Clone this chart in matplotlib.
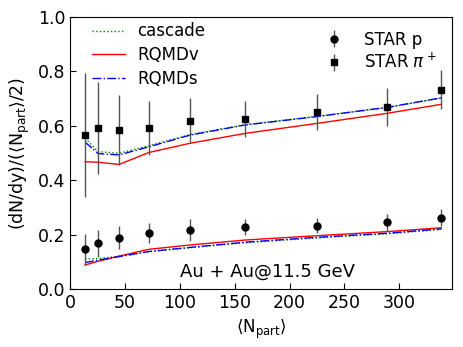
import matplotlib
matplotlib.use("Agg")
import matplotlib.pyplot as plt

npart = [13.7, 25.6, 44.7, 72.0, 109.7, 159.5, 225.3, 289.1, 338.3]

# STAR data
pi_y = [0.566, 0.591, 0.585, 0.591, 0.619, 0.624, 0.650, 0.669, 0.732]
pi_err = [0.229, 0.170, 0.128, 0.100, 0.082, 0.067, 0.067, 0.069, 0.072]
p_y = [0.146, 0.168, 0.189, 0.205, 0.216, 0.227, 0.233, 0.245, 0.262]
p_err = [0.058, 0.049, 0.043, 0.037, 0.040, 0.030, 0.028, 0.030, 0.032]

# model curves (pi+)
pi_cascade = [0.555, 0.505, 0.499, 0.527, 0.568, 0.604, 0.635, 0.667, 0.702]
pi_rqmdv = [0.468, 0.466, 0.458, 0.502, 0.536, 0.572, 0.609, 0.646, 0.679]
pi_rqmds = [0.540, 0.498, 0.493, 0.523, 0.566, 0.603, 0.634, 0.668, 0.703]
# model curves (p)
p_cascade = [0.110, 0.112, 0.120, 0.137, 0.152, 0.170, 0.188, 0.203, 0.219]
p_rqmdv = [0.088, 0.102, 0.121, 0.146, 0.162, 0.180, 0.196, 0.211, 0.225]
p_rqmds = [0.097, 0.106, 0.119, 0.138, 0.153, 0.172, 0.190, 0.205, 0.221]

fig = plt.figure(figsize=(4.63, 3.47), dpi=100)
ax = fig.add_axes([70/463, 1-289/347, (452-70)/463, (289-17)/347])

l1, = ax.plot(npart, pi_cascade, color='green', ls=':', lw=1.0, label='cascade')
l2, = ax.plot(npart, pi_rqmdv, color='red', ls='-', lw=1.0, label='RQMDv')
l3, = ax.plot(npart, pi_rqmds, color='blue', ls='-.', lw=1.0, label='RQMDs')
ax.plot(npart, p_cascade, color='green', ls=':', lw=1.0)
ax.plot(npart, p_rqmdv, color='red', ls='-', lw=1.0)
ax.plot(npart, p_rqmds, color='blue', ls='-.', lw=1.0)

e1 = ax.errorbar(npart, p_y, yerr=p_err, fmt='o', color='black', ms=5,
                 ecolor='#555555', elinewidth=1.0, capsize=0, label='STAR p')
e2 = ax.errorbar(npart, pi_y, yerr=pi_err, fmt='s', color='black', ms=5,
                 ecolor='#555555', elinewidth=1.0, capsize=0, label=r'STAR $\pi^+$')

ax.set_xlim(0, 348)
ax.set_ylim(0, 1.0)
ax.set_xticks([0, 50, 100, 150, 200, 250, 300])
ax.set_yticks([0.0, 0.2, 0.4, 0.6, 0.8, 1.0])
ax.tick_params(direction='in', labelsize=12.5, length=4)

ax.set_xlabel(r'$\langle$N$_{\rm part}\rangle$', fontsize=12)
ax.set_ylabel(r'(dN/dy)/($\langle$N$_{\rm part}\rangle$/2)', fontsize=12.5)

ax.text(180, 0.064, 'Au + Au@11.5 GeV', fontsize=13, ha='center', va='center')

leg1 = ax.legend(handles=[l1, l2, l3], loc='upper left', frameon=False, fontsize=12,
                 bbox_to_anchor=(0.018, 1.035), handlelength=2.0, handletextpad=0.7,
                 labelspacing=0.35)
ax.add_artist(leg1)
ax.legend(handles=[e1, e2], loc='upper right', frameon=False, fontsize=12,
          bbox_to_anchor=(1.0, 1.005), labelspacing=0.25)

fig.savefig('out.png', dpi=100)
